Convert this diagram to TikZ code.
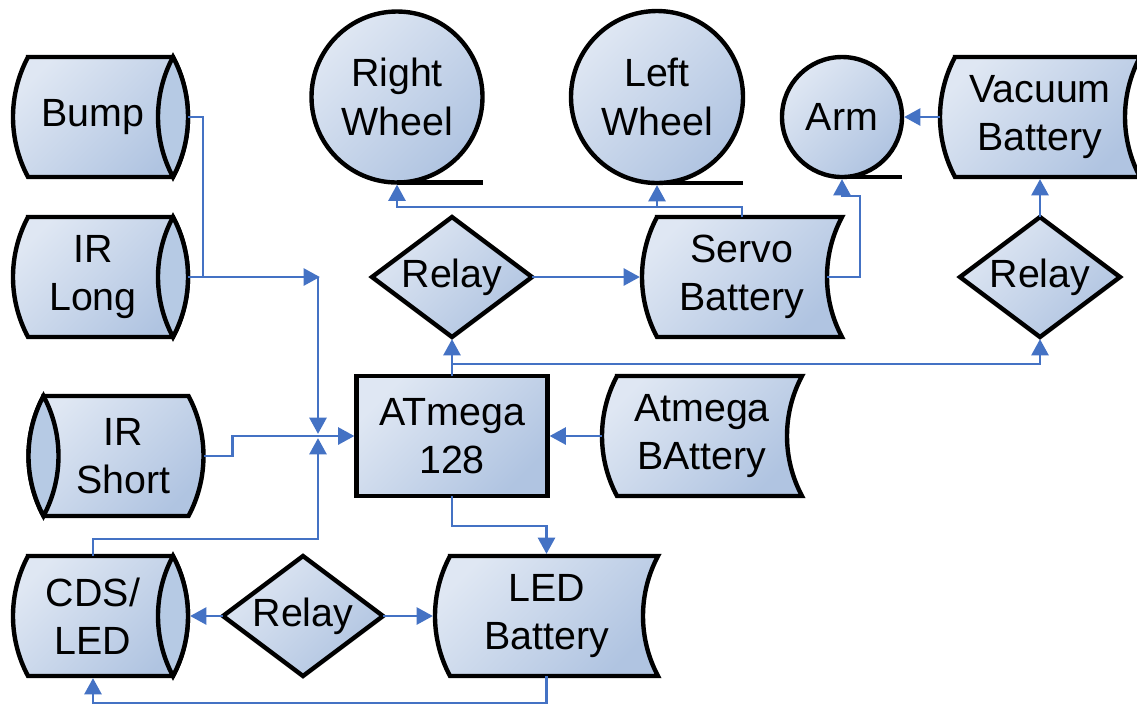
\documentclass[tikz,border=0pt]{standalone}
\usepackage{fontspec}
\setmainfont{Liberation Sans}
\usetikzlibrary{arrows.meta,calc,shapes.geometric,backgrounds}
\definecolor{shadeA}{RGB}{223,231,243}
\definecolor{shadeB}{RGB}{176,196,225}
\definecolor{lensC}{RGB}{182,202,228}
\definecolor{wireC}{RGB}{68,114,196}

\begin{document}
\begin{tikzpicture}[
  every node/.style={font=\fontsize{11.2}{13.8}\selectfont, align=center, inner sep=0pt, outer sep=0pt},
  outline/.style={draw=black, line width=1.25pt},
  blockfill/.style={outline, top color=shadeA, bottom color=shadeB, shading angle=45},
  body/.style={minimum width=1.6cm, minimum height=1.2cm},
  wire/.style={draw=wireC, line width=0.8pt},
  arrow/.style={wire, -{Triangle[length=4.6pt,width=4.8pt]}, shorten >=0.6pt},
  relay/.style={diamond, blockfill, shape aspect=1.35, minimum width=1.6cm, minimum height=1.2cm},
  wheel/.style={circle, blockfill}]
  \useasboundingbox (0,0) rectangle (11.37,-7.06);
  % sensors on the left
  \node[body] (bump) at (0.93,-1.17) {Bump};
  \node[body] (irlong) at (0.93,-2.77) {IR\\Long};
  \node[body] (irshort) at (1.235,-4.56) {IR\\Short};
  \node[body] (cds) at (0.93,-6.16) {CDS/\\LED};
  % outputs along the top
  \node[wheel, minimum size=1.71cm] (rwheel) at (3.97,-0.97) {Right\\Wheel};
  \node[wheel, minimum size=1.72cm] (lwheel) at (6.57,-0.97) {Left\\Wheel};
  \node[wheel, minimum size=1.2cm] (arm) at (8.42,-1.17) {Arm};
  \node[body, minimum width=2cm] (vacuum) at (10.40,-1.17) {Vacuum\\Battery};
  % relays, controller and batteries
  \node[relay] (relay1) at (4.52,-2.77) {Relay};
  \node[body, minimum width=2cm] (servo) at (7.42,-2.77) {Servo\\Battery};
  \node[relay] (relay2) at (10.40,-2.77) {Relay};
  \node[blockfill, minimum width=1.91cm, minimum height=1.2cm] (atmega) at (4.52,-4.36) {ATmega\\128};
  \node[body, minimum width=2cm] (atmbat) at (7.02,-4.36) {Atmega\\BAttery};
  \node[relay] (relay3) at (3.03,-6.16) {Relay};
  \node[body, minimum width=2.23cm] (ledbat) at (5.465,-6.16) {LED\\Battery};
  % free ends of the sensor wires
  \coordinate (bumpjoin) at (2.03,-2.77);
  \coordinate (upper) at (3.22,-2.77);
  \coordinate (hub) at (3.18,-4.36);
  \coordinate (armjog) at (8.60,-1.96);
  % block outlines, under the labels
  \begin{scope}[on background layer]
    % drums with the lens on the right
    \foreach \n in {bump,irlong,cds} {
      \draw[blockfill] ($(\n.north west)+(0.15,0)$) -- (\n.north east)
        arc[start angle=28.07, end angle=-28.07, radius=1.275]
        -- ($(\n.south west)+(0.15,0)$)
        arc[start angle=208.07, end angle=151.93, radius=1.275] -- cycle;
      \draw[outline, fill=lensC] (\n.north east)
        arc[start angle=28.07, end angle=-28.07, radius=1.275]
        arc[start angle=208.07, end angle=151.93, radius=1.275] -- cycle;
    }
    % drum with the lens on the left
    \draw[blockfill] (irshort.north west) -- ($(irshort.north east)+(-0.15,0)$)
      arc[start angle=28.07, end angle=-28.07, radius=1.275]
      -- (irshort.south west)
      arc[start angle=208.07, end angle=151.93, radius=1.275] -- cycle;
    \draw[outline, fill=lensC] (irshort.north west)
      arc[start angle=28.07, end angle=-28.07, radius=1.275]
      arc[start angle=208.07, end angle=151.93, radius=1.275] -- cycle;
    % stored-data blocks (batteries)
    \foreach \n in {vacuum,servo,atmbat,ledbat} {
      \draw[blockfill] ($(\n.north west)+(0.15,0)$) -- (\n.north east)
        arc[start angle=151.93, end angle=208.07, radius=1.275]
        -- ($(\n.south west)+(0.15,0)$)
        arc[start angle=208.07, end angle=151.93, radius=1.275] -- cycle;
    }
  \end{scope}
  % tape tails of the wheels and the arm
  \foreach \n in {rwheel,lwheel,arm}
    \draw[outline] (\n.south) -- (\n.south -| \n.east);
  % sensor wiring into the ATmega
  \draw[wire] ($(bump.east)+(0.15,0)$) -| (bumpjoin);
  \draw[arrow] ($(irlong.east)+(0.15,0)$) -- (upper);
  \draw[arrow] (hub |- upper) -- (hub);
  \draw[arrow] (irshort.east) -- ++(0.29,0) |- (atmega.west);
  \draw[arrow] (cds.north) -- ++(0,0.17) -| (hub);
  \draw[arrow] (atmbat.west) -- (atmega.east);
  % ATmega to the relays
  \draw[arrow] (atmega.north) -- (relay1.south);
  \draw[arrow] (atmega.north) -- ++(0,0.12) -| (relay2.south);
  % power paths
  \draw[arrow] (relay1.east) -- (servo.west);
  \draw[arrow] (servo.north) -- ++(0,0.10) -| (lwheel.south);
  \draw[arrow] (servo.north) -- ++(0,0.10) -| (rwheel.south);
  \draw[arrow] ($(servo.east)+(-0.15,0)$) -| (armjog) -| (arm.south);
  \draw[arrow] (relay2.north) -- (vacuum.south);
  \draw[arrow] (vacuum.west) -- (arm.east);
  \draw[arrow] (atmega.south) -- ++(0,-0.30) -| (ledbat.north);
  \draw[arrow] (relay3.west) -- ($(cds.east)+(0.15,0)$);
  \draw[arrow] (relay3.east) -- (ledbat.west);
  \draw[arrow] (ledbat.south) -- ++(0,-0.27) -| (cds.south);
\end{tikzpicture}
\end{document}
